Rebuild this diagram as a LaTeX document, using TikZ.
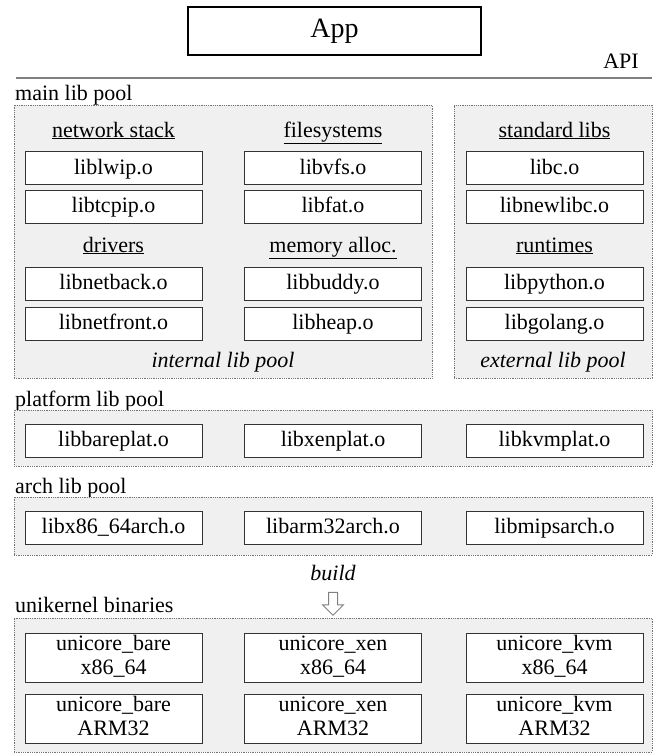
\documentclass[tikz,border=0pt]{standalone}
\usepackage{fontspec}
\setmainfont{Liberation Serif}
\usetikzlibrary{shapes.arrows}
\newcommand{\unitext}[2]{#1\strut\\#2\strut}
\begin{document}
\begin{tikzpicture}[x=1pt,y=-1pt,
  pool/.style={draw=black!55, densely dotted, fill=black!6, line width=0.8pt, inner sep=0pt},
  lib/.style={draw=black!80, fill=white, line width=0.9pt, minimum width=177pt, minimum height=33pt, inner sep=0pt, text height=16pt, text depth=4pt, font=\fontsize{22}{24}\selectfont},
  uni/.style={draw=black!80, fill=white, line width=0.9pt, minimum width=177pt, minimum height=49pt, inner sep=0pt, align=center, font=\fontsize{22}{24}\selectfont},
  lbl/.style={inner sep=0pt, font=\fontsize{22}{24}\selectfont},
  head/.style={lbl, anchor=base},
  pooltitle/.style={lbl, anchor=base west},
]
\useasboundingbox (0,0) rectangle (654,753);

% App and API
\node[draw=black, line width=1.6pt, minimum width=293pt, minimum height=48pt, inner sep=0pt, font=\fontsize{28}{30}\selectfont] (app) at (334.5,31) {App};
\node[lbl, anchor=base east] (api) at (639,68) {API};
\coordinate (lineL) at (16,78);
\coordinate (lineR) at (652,78);
\draw[black!50, line width=1.8pt] (lineL) -- (lineR);

% main lib pool
\node[pooltitle] (mainlbl) at (15,100) {main lib pool};
\node[pool, minimum width=418pt, minimum height=273pt] (intpool) at (223,241.5) {};
\node[pool, minimum width=198pt, minimum height=273pt] (extpool) at (553,241.5) {};

\node[head] (hnet) at (113.5,137) {\underline{network stack}};
\node[head] (hfs) at (333,137) {\underline{filesystems}};
\node[head] (hstd) at (554.5,137) {\underline{standard libs}};

\node[lib] (lwip) at (113.5,168) {liblwip.o};
\node[lib] (vfs) at (333,168) {libvfs.o};
\node[lib] (libc) at (554.5,168) {libc.o};
\node[lib] (tcpip) at (113.5,206.5) {libtcpip.o};
\node[lib] (fat) at (333,206.5) {libfat.o};
\node[lib] (newlibc) at (554.5,206.5) {libnewlibc.o};

\node[head] (hdrv) at (113.5,252) {\underline{drivers}};
\node[head] (hmem) at (333,252) {\underline{memory alloc.}};
\node[head] (hrt) at (554.5,252) {\underline{runtimes}};

\node[lib] (netback) at (113.5,283.5) {libnetback.o};
\node[lib] (buddy) at (333,283.5) {libbuddy.o};
\node[lib] (python) at (554.5,283.5) {libpython.o};
\node[lib] (netfront) at (113.5,323.5) {libnetfront.o};
\node[lib] (heap) at (333,323.5) {libheap.o};
\node[lib] (golang) at (554.5,323.5) {libgolang.o};

\node[head] (intlbl) at (223,367) {\itshape internal lib pool};
\node[head] (extlbl) at (553,367) {\itshape external lib pool};

% platform lib pool
\node[pooltitle] (platlbl) at (15,406) {platform lib pool};
\node[pool, minimum width=638pt, minimum height=56pt] (platpool) at (333,438) {};
\node[lib] (bareplat) at (113.5,440.5) {libbareplat.o};
\node[lib] (xenplat) at (333,440.5) {libxenplat.o};
\node[lib] (kvmplat) at (554.5,440.5) {libkvmplat.o};

% arch lib pool
\node[pooltitle] (archlbl) at (15,493) {arch lib pool};
\node[pool, minimum width=638pt, minimum height=58pt] (archpool) at (333,526) {};
\node[lib] (x86arch) at (113.5,527.5) {libx86\_64arch.o};
\node[lib] (armarch) at (333,527.5) {libarm32arch.o};
\node[lib] (mipsarch) at (554.5,527.5) {libmipsarch.o};

% build
\node[head] (build) at (333,580) {\itshape build};
\node[single arrow, draw=black!50, fill=white, line width=1pt, shape border rotate=270, minimum height=23pt, minimum width=20pt, single arrow head extend=6pt, inner sep=4pt] (arrow) at (333,601.5) {};

% unikernel binaries
\node[pooltitle] (unilbl) at (15,612) {unikernel binaries};
\node[pool, minimum width=638pt, minimum height=134pt] (unipool) at (333,685) {};
\node[uni] (bx86) at (113.5,657.5) {\unitext{unicore\_bare}{x86\_64}};
\node[uni] (xx86) at (333,657.5) {\unitext{unicore\_xen}{x86\_64}};
\node[uni] (kx86) at (554.5,657.5) {\unitext{unicore\_kvm}{x86\_64}};
\node[uni] (barm) at (113.5,718.5) {\unitext{unicore\_bare}{ARM32}};
\node[uni] (xarm) at (333,718.5) {\unitext{unicore\_xen}{ARM32}};
\node[uni] (karm) at (554.5,718.5) {\unitext{unicore\_kvm}{ARM32}};
\end{tikzpicture}
\end{document}
